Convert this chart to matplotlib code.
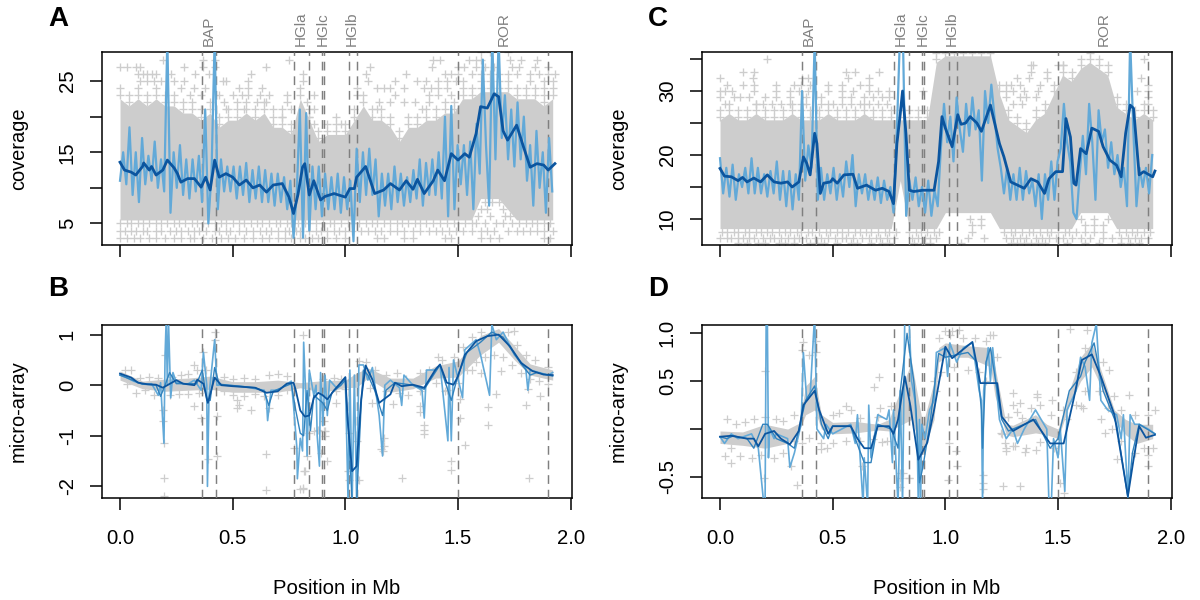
import matplotlib
matplotlib.use("Agg")
import matplotlib.pyplot as plt
import numpy as np

plt.rcParams['font.family'] = ['Liberation Sans', 'DejaVu Sans']
plt.rcParams['axes.unicode_minus'] = False

GREY = '#cdcdcd'
LIGHT = '#62a9d8'
MID = '#3182bd'
DARK = '#0b559f'
DASH = '#7f7f7f'

genes_x = [.365, .425, .77, .84, .895, .905, 1.015, 1.05, 1.5, 1.9]
gene_labels = ['BAP', 'HGla', 'HGlc', 'HGlb', 'ROR']
gene_label_x = [.395, .80, .90, 1.03, 1.705]

# ---- panel A: coverage ----
# cloud limits read every 0.04 Mb
a_cloud_hi = [24, 23, 24, 23, 24, 23, 23, 22, 22, 21,
              22, 20, 21, 21, 22, 21, 22, 20, 20, 19,
              24, 21, 18, 19, 19, 19, 21, 23, 21, 21,
              20, 18, 20, 20, 21, 21, 22, 22, 24, 24,
              25, 25, 25, 25, 24, 24, 24, 23, 24]
a_cloud_lo = [5.5, 5.5, 5.5, 5.5, 5.5, 5.5, 5.5, 5.5, 5.5, 5.5,
              5.5, 5.5, 5.5, 5.5, 5.5, 5.5, 5.5, 5.5, 5.5, 5.5,
              5.5, 5.5, 5.5, 5.5, 5.5, 5.5, 5.5, 5.5, 5.5, 5.5,
              5.5, 5.5, 5.5, 5.5, 5.5, 5.5, 5.5, 5.5, 5.5, 5.5,
              8.5, 8.5, 8.5, 7, 5.5, 5.5, 5.5, 5.5, 5.5]
a_pts = {
    29: [1.6, 1.64, 1.72],
    28: [.19, .37, .42, .75, 1.39, 1.42, 1.55, 1.58, 1.6, 1.73, 1.78, 1.85],
    27: [0, .03, .07, .09, .285, .37, .42, .65, 1.11, 1.385, 1.5, 1.525, 1.58, 1.62, 1.66, 1.74, 1.77, 1.84, 1.9],
    26: [.08, .1, .12, .14, .16, .225, .335, .395, .58, .81, 1.09, 1.27, 1.44, 1.47, 1.5, 1.56, 1.6, 1.64, 1.68, 1.72, 1.76, 1.82, 1.86, 1.9, 1.93],
    25: [.09, .12, .15, .18, .24, .285, .455, .47, .57, .81, 1.1, 1.22, 1.32, 1.36, 1.41, 1.45, 1.49, 1.52, 1.82, 1.88, 1.92],
    24: [.27, .33, .375, .53, .57, .63, 1.05, 1.14, 1.17, 1.2, 1.26, 1.35, 1.38, 1.41, 1.45, 1.88],
    23: [.31, .36, .44, .5, .54, .57, .62, .66, .74, .86, 1.05, 1.22, 1.37, 1.41, 1.47],
    22: [.46, .52, .61, .65, .74, .83, 1.15, 1.2, 1.26, 1.31, 1.37],
    21: [.47, .55, .68, .72, .76, .86, 1.14, 1.34],
    20: [.72, .84, .96],
    19: [.83, .86, .98],
    8: [1.62, 1.65, 1.68],
    7: [1.6, 1.63, 1.7],
    6: [1.59, 1.64, 1.71, 1.73],
    5: [.0, .03, .05, .08, .1, .13, .16, .18, .21, .24, .26, .29, .32, .34, .37, .39, .42, .45, .47, .5, .53, .55, .58, .61, .63, .66, .69, .71,
        .74, .76, .79, .82, .84, .87, .9, .93, .95, .98, 1.01, 1.03, 1.06, 1.09, 1.12, 1.14, 1.17, 1.2, 1.23, 1.25, 1.28, 1.31, 1.33, 1.36, 1.39, 1.42, 1.45, 1.48,
        1.5, 1.53, 1.56, 1.58, 1.62, 1.67, 1.7, 1.74, 1.77, 1.8, 1.83, 1.85, 1.88, 1.91],
    4: [.0, .02, .05, .07, .1, .12, .16, .18, .22, .25, .27, .3, .33, .35, .38, .42, .44, .47, .49, .53, .56, .59, .62, .65, .67, .7, .73, .75, .78, .8,
        .84, .87, .89, .92, .95, .97, 1.0, 1.03, 1.07, 1.1, 1.13, 1.16, 1.2, 1.23, 1.26, 1.3, 1.33, 1.37, 1.4, 1.43, 1.46, 1.49, 1.52, 1.56, 1.6, 1.63, 1.66, 1.72,
        1.76, 1.79, 1.82, 1.85, 1.88, 1.92],
    3: [.0, .03, .06, .09, .13, .16, .2, .24, .27, .31, .33, .37, .41, .45, .48, .51, .55, .59, .63, .66, .7, .73, .76, .8, .82, .85, .88, .92, .96, 1.0,
        1.14, 1.17, 1.26, 1.3, 1.44, 1.47, 1.6, 1.64, 1.68, 1.88, 1.91],
}
# one reading every 0.014 Mb
a_light = [11, 15, 10.5, 18.5, 9, 15, 8, 17, 10.5, 14.5,
           11, 16.5, 10, 14, 9.5, 31, 6.5, 15, 10, 16,
           9, 14, 8.5, 14, 9.5, 14.5, 8, 21, 5, 12,
           31, 7, 14, 9.5, 13, 9.5, 13, 8.5, 13, 9,
           13.5, 8, 12.5, 8.5, 13, 8, 12.5, 8, 12, 7.5,
           12, 8, 11.5, 7, 11, 3, 9, 21, 3, 20.5,
           4, 13, 7, 13, 6, 12, 7, 11.5, 7, 12,
           6.5, 11.5, 7, 11, 2.5, 15.5, 8, 15, 9, 15.5,
           9, 14, 6, 12, 7.5, 12, 7, 13, 8, 12,
           7.5, 11.5, 8, 12.5, 8.5, 14, 7.5, 13.5, 9, 14,
           9, 15, 8.5, 20, 6, 21.5, 7, 16, 10.5, 16,
           9, 16.5, 7, 19, 12, 28, 16, 7.5, 31, 14,
           31, 17, 23, 14, 21, 13, 22, 14, 20, 11,
           16, 7.5, 18, 10, 15, 6.5, 17, 9.5]
a_dark_x = [0, .02, .05, .07, .1, .105, .13, .14, .16, .19, .21, .24, .255, .27, .3, .33, .36, .38, .4, .42,
            .44, .47, .5, .53, .56, .59, .62, .65, .68, .72, .75, .77, .79, .81, .82, .84, .86, .89, .91, .95,
            1.0, 1.02, 1.04, 1.05, 1.09, 1.13, 1.17, 1.2, 1.24, 1.27, 1.3, 1.32, 1.35, 1.39, 1.41, 1.44, 1.47,
            1.5, 1.53, 1.55, 1.58, 1.6, 1.63, 1.66, 1.68, 1.7, 1.72, 1.76, 1.79, 1.82, 1.85, 1.88, 1.9, 1.93]
a_dark_y = [13.6, 12.5, 12.2, 11.8, 13, 13.5, 12.5, 13, 11.8, 12.5, 13.9, 12.8, 12, 10.8, 11.3, 11.3, 10.1, 11.5, 9.7, 13.9,
            11.5, 12, 11.5, 10.4, 11.1, 10, 10.4, 9.4, 10.4, 10.6, 8.7, 6.4, 9.1, 12.9, 13.4, 9, 11, 8.3, 8.8, 9.2,
            8.7, 9.9, 9.9, 11.5, 13, 9.2, 9.7, 10.6, 9.7, 11, 9.8, 11.2, 9.2, 11, 12.5, 11, 14.8,
            13.9, 14.8, 14.3, 17.6, 21.4, 21.2, 23.2, 22.8, 18, 16.7, 18.8, 15.8, 12.9, 13.4, 13.2, 12.5, 13.4]

# ---- panel C: coverage ----
c_cloud_hi = [27, 28, 27, 27, 28, 27, 27, 27, 28, 27,
              27, 27, 28, 27, 27, 27, 28, 27, 27, 27,
              27, 27, 27, 27, 36, 37, 37, 37, 37, 37,
              37, 31, 27, 26, 25, 27, 28, 31, 34, 33,
              35, 36, 35, 34, 29, 28, 27, 28, 27]
c_cloud_lo = [8.5, 8.5, 8.5, 8.5, 8.5, 8.5, 8.5, 8.5, 8.5, 8.5,
              8.5, 8.5, 8.5, 8.5, 8.5, 8.5, 8.5, 8.5, 8.5, 8.5,
              16, 8.5, 8.5, 8.5, 8.5, 11, 11, 11, 11, 11,
              11, 8.5, 8.5, 8.5, 8.5, 8.5, 8.5, 8.5, 8.5, 8.5,
              11, 11, 11, 11, 8.5, 8.5, 8.5, 8.5, 8.5]
c_pts = {
    35: [.21, 1.88],
    34: [1.39, 1.38, 1.5, 1.52],
    33: [.1, .15, .6, .705, .56, 1.38, 1.45],
    32: [0, .145, .365, .39, .57, .66, 1.32, 1.37, 1.45, 1.87],
    31: [.03, .1, .15, .25, .33, .36, .4, .48, .54, .62, .66, 1.27, 1.29, 1.33, 1.42, 1.9],
    30: [0, .02, .055, .15, .25, .31, .35, .39, .48, .54, .59, .66, .7, .75, .9, 1.27, 1.3, 1.35, 1.41, 1.85, 1.9],
    29: [0, .06, .09, .13, .2, .25, .31, .38, .45, .54, .58, .64, .68, .72, .75, 1.27, 1.33, 1.36, 1.4, 1.9],
    28: [.02, .16, .19, .23, .27, .31, .36, .38, .45, .5, .54, .58, .62, .66, .7, .74, 1.3, 1.34, 1.9],
    10: [1.11, 1.16, 1.6, 1.66, 1.72],
    9: [1.12, 1.16, 1.62, 1.66, 1.7],
    8: [.01, .03, .06, .08, .11, .13, .16, .18, .21, .23, .26, .29, .31, .34, .36, .39, .41, .44, .47, .49, .52, .54, .57, .6, .62, .65, .67, .7, .73, .75, .78,
        .84, .87, .89, .92, .95, .97, 1.12, 1.26, 1.29, 1.31, 1.34, 1.37, 1.39, 1.42, 1.45, 1.47, 1.5, 1.53, 1.55, 1.58, 1.62, 1.66, 1.7, 1.77, 1.8, 1.83, 1.85, 1.88, 1.91],
    7: [.0, .03, .05, .08, .1, .13, .15, .19, .22, .24, .27, .3, .33, .35, .38, .42, .45, .48, .51, .54, .56, .59, .63, .66, .69, .71, .74, .77,
        .85, .88, .91, .93, .96, 1.1, 1.17, 1.27, 1.3, 1.33, 1.36, 1.4, 1.43, 1.46, 1.49, 1.52, 1.56, 1.6, 1.64, 1.7, 1.74, 1.78, 1.81, 1.84, 1.87, 1.9],
    6.3: [.08, .12, .17, .2, .26, .29, .33, .4, .43, .46, .52, .58, .61, .67, .72, .75, .86, .9, .93, 1.07, 1.29, 1.32, 1.35, 1.38, 1.41, 1.44, 1.54, 1.62, 1.68, 1.78, 1.82, 1.86],
}
c_light = [19.5, 14, 18, 13.5, 18.5, 13, 17, 15, 18, 14,
           19.5, 14, 18, 14, 17, 13.5, 17.5, 14, 19, 13,
           17.5, 12, 17.5, 11.5, 17, 13, 30, 16, 21.5, 18,
           38, 13, 18, 13, 17, 14, 18, 13, 17, 13.5,
           19, 15, 20, 12, 17, 14, 17, 13, 16, 13,
           16.5, 12.5, 16, 13, 15, 11, 23, 38, 38, 10.5,
           16, 13, 16.5, 12, 15, 11, 16, 10.5, 14.5, 12,
           21, 28, 22, 26, 19, 29, 24, 20.5, 28, 23,
           29, 24, 27, 16, 30, 25, 31, 26, 21, 18,
           14, 18, 13, 17, 13, 18, 13, 17.5, 14, 16,
           12, 17, 10, 17, 13, 19, 13, 19, 21, 28,
           22, 19, 11, 10, 17, 23, 17, 28, 22, 13,
           27, 22, 24, 18, 22, 17, 20, 15, 18, 12,
           38, 24, 12, 18, 15, 18, 14, 20]
c_dark_x = [0, .02, .05, .08, .1, .12, .15, .18, .21, .24, .27, .3, .32, .35, .37, .385, .4, .42, .43, .445,
            .46, .49, .5, .52, .55, .59, .61, .65, .69, .72, .75, .77, .785, .8, .81, .825, .84, .86, .9, .95,
            .97, .985, 1.0, 1.03, 1.055, 1.07, 1.09, 1.11, 1.14, 1.16, 1.2, 1.24, 1.26, 1.29, 1.32, 1.35, 1.38,
            1.41, 1.44, 1.46, 1.49, 1.52, 1.535, 1.555, 1.57, 1.58, 1.6, 1.625, 1.65, 1.68, 1.7, 1.73, 1.76,
            1.78, 1.8, 1.82, 1.835, 1.86, 1.88, 1.92, 1.93]
c_dark_y = [17.9, 16.7, 16.6, 16, 16.5, 15.8, 16.4, 15.8, 16.9, 15.8, 15.6, 15.8, 15, 15.8, 19.7, 18.7, 16.9, 23.4, 21.8, 14,
            15.6, 15.8, 16.3, 15.6, 16.9, 17, 14.8, 15.3, 14.5, 14.8, 14.3, 12.4, 21.8, 26.5, 30, 23.4, 14.5, 14.3, 14.5, 14.5,
            19, 26, 24.2, 21.3, 26.3, 24.8, 25, 26, 25, 23.7, 27.8, 21.8, 19.7, 15.8, 15.3, 14.8, 16.3,
            15.8, 14, 16.3, 17.4, 17.4, 25.7, 22.8, 15.6, 15.3, 21, 20.2, 24.2, 23.7, 21.3, 19.2, 18.4,
            16.6, 23.4, 27.8, 27.3, 16.9, 17.4, 16.6, 17.5]

# ---- panel B: micro-array ----
b_cloud_x = [0, .1, .2, .3, .4, .5, .6, .7, .8, .9, 1.0, 1.05, 1.1, 1.2, 1.3, 1.4, 1.5, 1.6, 1.68, 1.75, 1.82, 1.92]
b_cloud_lo = [.1, -.07, -.12, -.1, -.08, -.14, -.14, -.14, -.05, -.14, -.05, -.04, .14, -.14, -.07, .14, .16, .6, .85, .5, .2, .1]
b_cloud_hi = [.28, .08, .12, .14, .18, .07, .07, .1, .05, .09, .1, .24, .34, .14, .14, .38, .48, .98, 1.12, .78, .42, .3]
b_pts_x = [.19, .19, .195, .195, .195, .2, .33, .33, .36, .37, .42, .42, .43, .43, .39, .53, .52, .65, .65, .66, .58, .52,
           .77, .8, .81, .81, .82, .83, .86, .89, .91, .91, .92, .96, .905, .905, .88, .84, .815, .81, 1.015, 1.01, 1.05,
           1.06, 1.015, 1.06, 1.25, 1.21, 1.12, 1.16, 1.165, 1.17, 1.17, 1.33, 1.33, 1.35, 1.35, 1.35, 1.44, 1.47, 1.47,
           1.51, 1.53, 1.51, 1.6, 1.635, 1.635, 1.67, 1.69, 1.8, 1.865, 1.815, 1.81, 1.56, 1.75,
           # upper edge of the cloud
           .02, .05, .09, .13, .17, .23, .27, .3, .34, .38, .46, .5, .55, .6, .66, .7, .74, .9, .95, .98, 1.09, 1.13, 1.18, 1.23, 1.27,
           1.33, 1.37, 1.41, 1.43, 1.48, 1.52, 1.56, 1.6, 1.72, 1.76, 1.8, 1.84, 1.9,
           # lower edge of the cloud
           .03, .07, .11, .15, .22, .26, .3, .35, .46, .5, .55, .6, .64, .7, .74, .92, .96, 1.0, 1.11, 1.18, 1.24, 1.28, 1.33, 1.4, 1.45,
           1.5, 1.54, 1.58, 1.62, 1.66, 1.7, 1.74, 1.78, 1.82, 1.86, 1.9]
b_pts_y = [-.5, -.7, -1.15, -1.83, -2.2, .6, -.42, .4, -.65, .65, 1.05, .9, -.6, -1.4, -1.45, -.4, -.3, -1.37, -2.07, -.45, -.5, -.45,
           -1.25, -2.05, -2.05, 1.0, -1.7, -1.4, -.9, -1.35, -.9, -1.0, -1.5, -.35, -.7, -.9, -.88, -.95, -1.7, -2.03, -.95, -1.7, -1.1,
           -1.87, -1.87, .48, -1.83, -.38, -.35, -1.27, -1.3, -1.2, -1.05, -.42, -.52, -.78, -.88, -.96, -.12, -1.5, -1.67,
           -.65, -1.19, -.28, .25, -.44, -.79, -.18, .28, -.4, -.22, -1.83, -.08, .31, 1.07,
           .3, .3, .15, .16, .14, .17, .2, .22, .3, .3, .17, .12, .15, .13, .2, .22, .18, .12, .15, .12, .45, .3, .2, .25, .12,
           .25, .3, .55, .5, .55, .75, .95, 1.05, 1.05, .8, .6, .5, .35,
           .03, -.15, -.1, -.2, -.2, -.18, -.17, -.15, -.12, -.2, -.22, -.18, -.22, -.2, -.1, -.2, -.12, -.08, -.05, -.12, -.15, -.2, -.12, .05, -.1,
           .05, .3, .45, .55, .6, .55, .4, .25, .12, .08, .03]
b_light_x = [0, .03, .06, .1, .14, .17, .18, .195, .2, .205, .21, .215, .225, .235, .25, .3, .33, .36, .37, .385, .388, .395, .42, .43,
             .47, .55, .64, .65, .655, .67, .7, .76, .77, .785, .787, .8, .81, .815, .825, .83, .84, .86, .87, .875, .885, .89, .9, .91, .92, .93,
             .96, .98, 1.0, 1.012, 1.02, 1.03, 1.04, 1.05, 1.06, 1.08, 1.1, 1.12, 1.15, 1.165, 1.175, 1.2, 1.24, 1.25, 1.26, 1.3, 1.34, 1.35, 1.36,
             1.4, 1.42, 1.455, 1.46, 1.47, 1.48, 1.52, 1.53, 1.58, 1.6, 1.64, 1.65, 1.67, 1.7, 1.75, 1.8, 1.81, 1.82, 1.9, 1.92]
b_light_y = [.2, .15, .08, .02, .03, -.2, .05, -1.15, .6, 1.3, 0, 1.3, -.25, .25, .05, .02, .1, -.1, .65, 0, -2.0, -.2, .9, 0,
             0, -.03, -.1, -.3, -.7, -.1, -.1, .08, -.4, -1.25, -1.85, -1.05, -1.3, .85, -.3, -1.4, .3, -.2, 0, -1.0, -1.6, .25, -.8, .2, -.6, .1,
             -.05, 0, .15, -2.3, .3, -2.3, .2, -2.3, .4, .4, .1, .35, -.6, -1.4, 0, .1, -.05, -.4, .2, 0, -.1, -.65, .3,
             .3, .4, -1.1, .35, -1.1, .5, -.25, .7, .9, .6, -.2, 1.2, .9, 1.05, .6, .35, -.1, .3, .2, .25]
b_mid_x = [0, .1, .16, .18, .2, .22, .25, .34, .365, .385, .4, .42, .44, .6, .64, .66, .68, .76, .78, .8, .815, .83, .845, .86, .9, .92, .94, .98,
           1.0, 1.015, 1.03, 1.05, 1.07, 1.08, 1.1, 1.13, 1.165, 1.18, 1.22, 1.3, 1.35, 1.42, 1.44, 1.47, 1.5, 1.54, 1.6, 1.65, 1.7, 1.78, 1.82, 1.85, 1.92]
b_mid_y = [.2, .02, 0, -.22, 0, .25, .03, .03, .3, -.3, -.3, .35, .02, -.05, -.12, -.4, -.12, .03, -.5, -.95, -1.0, -.1, -.9, -.2, -.35, -.5, -.15, 0,
           .1, -1.0, -2.3, -2.3, -.4, .3, .2, -.1, -.6, -.1, .05, 0, -.08, .4, .1, -.3, .2, .65, .85, 1.05, .95, .42, .2, .25, .18]
b_dark_x = [0, .05, .08, .12, .16, .19, .25, .28, .33, .343, .37, .39, .42, .45, .5, .6, .65, .7, .74, .77, .78, .8, .82, .84, .86, .88, .9, .92, .95, .97,
            1.0, 1.01, 1.03, 1.05, 1.07, 1.09, 1.12, 1.15, 1.2, 1.22, 1.25, 1.3, 1.35, 1.4, 1.42, 1.45, 1.48, 1.5, 1.53, 1.58, 1.63, 1.68, 1.73, 1.78, 1.83, 1.88, 1.92]
b_dark_y = [.23, .15, .05, .02, .01, -.05, .1, .03, 0, .11, .03, -.35, .15, 0, -.02, -.05, -.15, -.12, .03, .05, -.1, -.5, -.62, -.6, -.25, -.15, -.2, -.28, -.1, 0,
            .16, -.68, -1.7, -1.6, -.28, .39, .11, -.35, -.18, .05, -.02, .01, -.05, .31, .41, .05, .01, .18, .6, .87, .97, 1.0, .77, .44, .28, .21, .2]

# ---- panel D: micro-array ----
d_cloud_x = [0, .1, .2, .3, .35, .38, .42, .45, .5, .6, .7, .75, .85, .9, .95, .97, 1.0, 1.1, 1.2, 1.22, 1.27, 1.3, 1.4, 1.45, 1.5, 1.55, 1.6, 1.65, 1.7, 1.75, 1.8, 1.85, 1.92]
d_cloud_lo = [-.15, -.17, -.2, -.15, -.02, .15, .2, 0, -.05, -.04, -.01, -.02, .1, -.25, .1, .7, .75, .75, .65, .35, -.06, -.08, -.04, -.06, -.1, .25, .5, .65, .4, .1, -.06, -.15, -.1]
d_cloud_hi = [-.02, -.03, .05, 0, .06, .45, .55, .15, .07, .08, .05, .1, .7, .05, .5, .85, .9, .87, .85, .65, .05, .04, .15, .05, 0, .4, .75, .9, .55, .2, .1, .05, .05]
d_pts_x = [.05, .2, .34, .37, .425, .395, .425, .365, .705, .685, .72, .8, .8, .8, .84, .63, .315, .195, .45, .475, .395, .365, .71, .757, .558,
           1.266, 1.27, 1.255, 1.33, 1.31, 1.355, 1.4, 1.3, 1.405, 1.405, 1.475, 1.33, 1.3, 1.32, 1.28, 1.245, 1.525, 1.51, 1.167, 1.167, 1.167,
           1.21, 1.06, 1.0, 1.02, 1.015, 1.045, 1.05, 1.555, 1.63, 1.815, 1.69, 1.71, 1.725, 1.76, 1.9, 1.9, 1.6, 1.61, .84, 1.01, .81,
           # upper edge of the cloud
           .03, .07, .11, .15, .2, .25, .28, .33, .5, .53, .58, .62, .7, .95, .97, 1.03, 1.08, 1.13, 1.18, 1.2, 1.23, 1.28, 1.34, 1.38, 1.42,
           1.47, 1.52, 1.58, 1.62, 1.7, 1.75, 1.78, 1.84, 1.9, 1.93,
           # lower edge of the cloud
           .02, .05, .09, .14, .18, .24, .28, .33, .45, .5, .56, .62, .68, .74, .96, .98, 1.04, 1.1, 1.15, 1.18, 1.25, 1.27, 1.3, 1.36, 1.42,
           1.48, 1.54, 1.58, 1.62, 1.68, 1.72, 1.74, 1.78, 1.84, 1.88, 1.92]
d_pts_y = [-.35, .61, -.58, .91, .92, .77, .81, .83, .54, .44, -.13, -.46, -.51, -.6, -.51, -.39, -.39, -.51, -.21, -.2, -.09, -.15, .22, .24, .24,
           -.15, -.23, -.59, -.59, -.18, -.24, -.22, .38, .37, .34, .3, .27, .25, .18, .13, -.04, -.67, -.56, -.48, -.56, -.63,
           .98, 1.03, 1.02, .98, -.15, -.23, -.39, 1.04, 1.03, .36, .1, -.04, .62, -.31, -.39, -.27, .24, .22, -.51, -.53, -.46,
           .1, .05, .07, .1, .13, .1, .08, .15, .15, .17, .2, .12, .13, .5, .95, 1.02, .95, .95, .92, .98, .75, .13, .12, .22, .25,
           .15, .2, .6, .85, .7, .35, .2, .15, .15, .2,
           -.28, -.2, -.28, -.3, -.27, -.3, -.25, -.12, -.15, -.15, -.12, -.12, -.1, -.12, .4, .6, .65, .62, .6, .5, -.05, -.2, -.18, -.2, -.14,
           -.2, .1, .25, .4, .4, .22, 0, -.12, -.25, -.2, -.2]
d_light_x = [0, .02, .05, .08, .14, .17, .195, .2, .205, .21, .215, .22, .24, .25, .3, .31, .33, .36, .37, .385, .4, .42, .43, .46, .47, .5,
             .58, .6, .61, .635, .64, .655, .66, .67, .7, .74, .75, .765, .77, .79, .8, .81, .82, .83, .84, .85, .865, .875, .88, .885, .89, .895,
             .91, .93, .95, .96, 1.0, 1.01, 1.02, 1.05, 1.08, 1.12, 1.15, 1.16, 1.165, 1.17, 1.19, 1.2, 1.21, 1.24, 1.27, 1.3, 1.32, 1.35, 1.4, 1.45,
             1.46, 1.47, 1.48, 1.5, 1.51, 1.53, 1.54, 1.58, 1.6, 1.62, 1.64, 1.65, 1.67, 1.69, 1.72, 1.76, 1.78, 1.79, 1.81, 1.82, 1.84, 1.86, 1.9, 1.93]
d_light_y = [-.08, -.15, -.05, -.1, -.05, -.2, -.8, -.8, 1.2, 1.2, -.3, 0, -.1, -.05, -.1, -.4, -.25, .05, .8, .3, .35, 1.2, 0, -.1, .05, -.05,
             .05, -.15, .15, -.8, -.3, -.8, .25, -.3, .15, .1, .2, -.35, .2, -.8, .4, -.8, 1.2, 1.2, 1.1, .5, .3, -.1, -.8, .1, -.8, .05,
             -.1, .2, .3, .8, .85, .55, .9, .7, .85, .9, .4, .3, -.8, .4, .85, .5, .85, .1, -.1, 0, -.15, 0, .2, 0,
             -.8, -.8, -.1, -.3, 0, -.65, .2, .4, .75, .65, .3, .9, 1.1, .3, .2, .15, -.1, .15, -.7, .15, .05, .05, 0, -.05]
d_mid_x = [0, .03, .06, .12, .15, .19, .21, .25, .3, .33, .345, .38, .42, .45, .48, .5, .58, .6, .64, .67, .7, .76, .79, .8, .83, .86, .87, .885, .9, .93, .97,
           1.0, 1.1, 1.14, 1.16, 1.165, 1.18, 1.2, 1.25, 1.28, 1.4, 1.465, 1.5, 1.55, 1.6, 1.62, 1.66, 1.7, 1.76, 1.81, 1.83, 1.86, 1.93]
d_mid_y = [-.08, -.1, -.07, -.1, -.2, .05, .05, -.1, -.15, -.2, -.05, .3, .45, .05, -.1, .03, .03, -.1, -.35, -.35, .05, 0, -.2, .4, 1.0, .5, .2, -.56, -.4, .03, .79,
           .75, .8, .7, .2, -.2, .7, .85, .1, -.02, .1, -.2, -.1, .4, .55, .7, .9, .4, .05, -.72, -.25, .05, -.05]
d_dark_x = [0, .05, .12, .15, .17, .2, .24, .27, .31, .35, .37, .42, .44, .48, .5, .58, .61, .64, .67, .7, .75, .77, .79, .82, .845, .88, .92, .95,
            1.0, 1.03, 1.12, 1.155, 1.23, 1.25, 1.3, 1.39, 1.465, 1.525, 1.57, 1.605, 1.65, 1.69, 1.75, 1.81, 1.835, 1.86, 1.89, 1.93]
d_dark_y = [-.08, -.07, -.1, -.1, -.18, -.05, -.02, -.1, -.16, -.02, .25, .4, .2, -.05, .03, .03, -.1, -.2, -.2, .03, .03, -.05, .1, .55, .24, -.32, -.14, .2,
            .86, .74, .91, .48, .48, .13, -.02, .1, -.15, -.15, .32, .72, .78, .55, .15, -.7, -.32, .03, -.09, -.06]

W, H = 1200, 600


def panel(px_left, px_top, px_bottom, ylim, ticks, ticklabels):
    ax = fig.add_axes([px_left/W, 1-px_bottom/H, 470/W, (px_bottom-px_top)/H])
    ax.set_xlim(-.0799, 2.0057)
    ax.set_ylim(*ylim)
    ax.set_xticks([0, .5, 1, 1.5, 2])
    ax.set_yticks(ticks)
    ax.set_yticklabels(ticklabels, rotation=90, va='center')
    ax.tick_params(length=8.6, width=1.1, labelsize=14.6)
    ax.tick_params(axis='y', pad=9.5)
    for s in ax.spines.values():
        s.set_linewidth(1.1)
    return ax


def vlines(ax):
    for g in genes_x:
        ax.axvline(g, color=DASH, lw=1.05, ls=(0, (6, 4)), zorder=3)


def plus(ax, x, y, ms=5.6, mew=.95):
    ax.plot(x, y, ls='none', marker='+', ms=ms, mew=mew, color=GREY, zorder=2)


def gene_text(ax):
    top = ax.get_ylim()[1]
    for lab, x in zip(gene_labels, gene_label_x):
        ax.annotate(lab, (x, top), xytext=(0, 4), textcoords='offset points', rotation=90,
                    ha='center', va='bottom', fontsize=11, color='#808080')


def coverage_panel(px_left, ylim, ticks, ticklabels, chi, clo, pts, light, dx, dy):
    ax = panel(px_left, 52, 245, ylim, ticks, ticklabels)
    cx = np.arange(len(chi))*.04
    chi = np.array(chi)
    # solid core of the cloud, the top two rows stay as crosses
    ax.fill_between(cx, clo, chi-1.5, color=GREY, lw=0, zorder=1)
    plus(ax, cx, chi)
    plus(ax, cx, chi-1)
    for level, xs in pts.items():
        plus(ax, xs, [level]*len(xs))
    vlines(ax)
    ax.plot(np.arange(len(light))*.014, light, color=LIGHT, lw=1.6, zorder=4)
    ax.plot(dx, dy, color=DARK, lw=2.0, zorder=5)
    ax.set_xticklabels([])
    ax.set_ylabel('coverage', fontsize=14.4)
    ax.yaxis.set_label_coords(-74/470, .5)
    gene_text(ax)
    return ax


def array_panel(px_left, ylim, ticks, ticklabels, cx, clo, chi, px, py, lx, ly, mx, my, dx, dy):
    ax = panel(px_left, 325, 498, ylim, ticks, ticklabels)
    ax.fill_between(cx, clo, chi, color=GREY, lw=0, zorder=1)
    plus(ax, px, py, ms=5.2, mew=.9)
    vlines(ax)
    ax.plot(lx, ly, color=LIGHT, lw=1.2, zorder=4)
    ax.plot(mx, my, color=MID, lw=1.0, zorder=5)
    ax.plot(dx, dy, color=DARK, lw=1.3, zorder=6)
    ax.set_xticklabels(['0.0', '0.5', '1.0', '1.5', '2.0'])
    ax.tick_params(axis='x', pad=13.5)
    ax.set_ylabel('micro-array', fontsize=14.4)
    ax.yaxis.set_label_coords(-74/470, .5)
    ax.set_xlabel('Position in Mb', fontsize=14.6)
    ax.xaxis.set_label_coords(235/470, -91/173, transform=ax.transAxes)
    ax.xaxis.label.set_va('center')
    return ax


fig = plt.figure(figsize=(12, 6), dpi=100)

coverage_panel(102, (1.98, 29.07), [5, 10, 15, 20, 25], ['5', '', '15', '', '25'],
               a_cloud_hi, a_cloud_lo, a_pts, a_light, a_dark_x, a_dark_y)
coverage_panel(702, (5.94, 36.1), [10, 15, 20, 25, 30, 35], ['10', '', '20', '', '30', ''],
               c_cloud_hi, c_cloud_lo, c_pts, c_light, c_dark_x, c_dark_y)
array_panel(102, (-2.23, 1.19), [-2, -1, 0, 1], ['-2', '-1', '0', '1'],
            b_cloud_x, b_cloud_lo, b_cloud_hi, b_pts_x, b_pts_y,
            b_light_x, b_light_y, b_mid_x, b_mid_y, b_dark_x, b_dark_y)
array_panel(702, (-.72, 1.087), [-.5, 0, .5, 1], ['-0.5', '', '0.5', '1.0'],
            d_cloud_x, d_cloud_lo, d_cloud_hi, d_pts_x, d_pts_y,
            d_light_x, d_light_y, d_mid_x, d_mid_y, d_dark_x, d_dark_y)

for letter, x, y in [('A', 48, 19), ('B', 48, 289), ('C', 648, 19), ('D', 648, 289)]:
    fig.text(x/W, 1-y/H, letter, fontsize=20, fontweight='bold', ha='left', va='center')

plt.savefig('out.png', dpi=100)
